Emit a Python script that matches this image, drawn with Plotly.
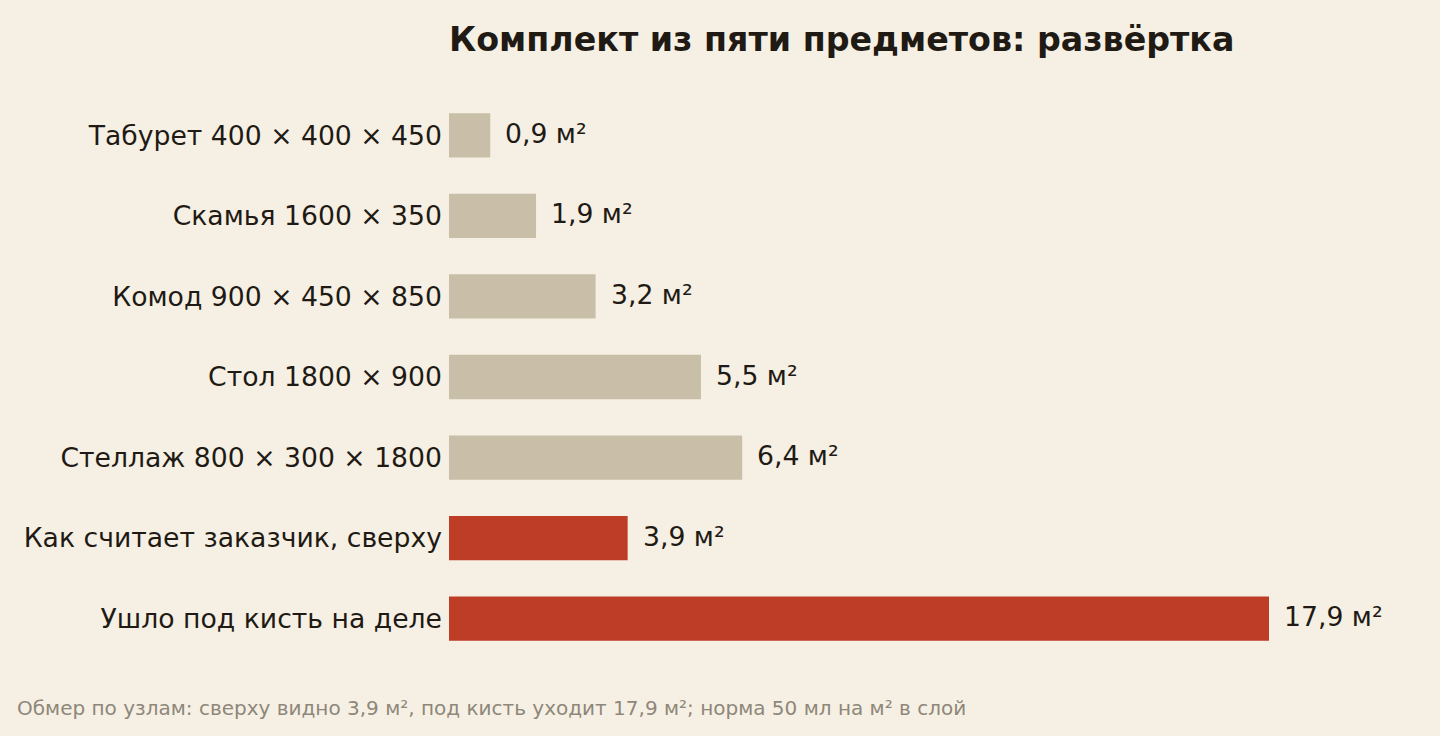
import plotly.graph_objects as go

# данные
items = [
    "Табурет 400 × 400 × 450",
    "Скамья 1600 × 350",
    "Комод 900 × 450 × 850",
    "Стол 1800 × 900",
    "Стеллаж 800 × 300 × 1800",
    "Как считает заказчик, сверху",
    "Ушло под кисть на деле",
]
areas = [0.9, 1.9, 3.2, 5.5, 6.4, 3.9, 17.9]
labels = ["0,9 м²", "1,9 м²", "3,2 м²", "5,5 м²", "6,4 м²", "3,9 м²", "17,9 м²"]
colors = ["#c9bfa8"] * 5 + ["#bd3d27"] * 2

BG = "#f6f0e4"
INK = "#1f1a14"
FONT = "DejaVu Sans"
LBL = 26.67  # 20pt

fig = go.Figure()
fig.add_trace(go.Bar(
    x=areas, y=items, orientation="h",
    marker=dict(color=colors, line=dict(width=0)),
    width=0.55, hoverinfo="skip",
))

# подписи значений справа от столбцов
for a, it, lab in zip(areas, items, labels):
    fig.add_annotation(x=a, y=it, text=lab, showarrow=False,
                       xanchor="left", yanchor="middle", xshift=13, yshift=2,
                       font=dict(family=FONT, size=LBL, color=INK))

fig.add_annotation(
    text="Обмер по узлам: сверху видно 3,9 м², под кисть уходит 17,9 м²; норма 50 мл на м² в слой",
    xref="paper", yref="paper", x=-434 / 951, y=-0.087,
    xanchor="left", yanchor="middle", showarrow=False,
    font=dict(family=FONT, size=20, color="#8e877a"),
)

fig.update_layout(
    width=1440, height=736,
    paper_bgcolor=BG, plot_bgcolor=BG,
    margin=dict(l=449, r=40, t=95, b=77),
    title=dict(text="<b>Комплект из пяти предметов: развёртка</b>",
               xref="paper", x=0, xanchor="left", y=0.946, yanchor="middle",
               font=dict(family=FONT, size=33.3, color=INK)),
    showlegend=False,
    font=dict(family=FONT, color=INK),
)
fig.update_xaxes(range=[0, 951 / (820 / 17.9)], visible=False, fixedrange=True)
fig.update_yaxes(autorange="reversed", showgrid=False, zeroline=False, showline=False,
                 ticks="", ticklabelstandoff=6,
                 tickfont=dict(family=FONT, size=LBL, color=INK), fixedrange=True)

fig.write_html("out.html", config={"displayModeBar": False},
               post_script="document.body.style.margin='0';")
